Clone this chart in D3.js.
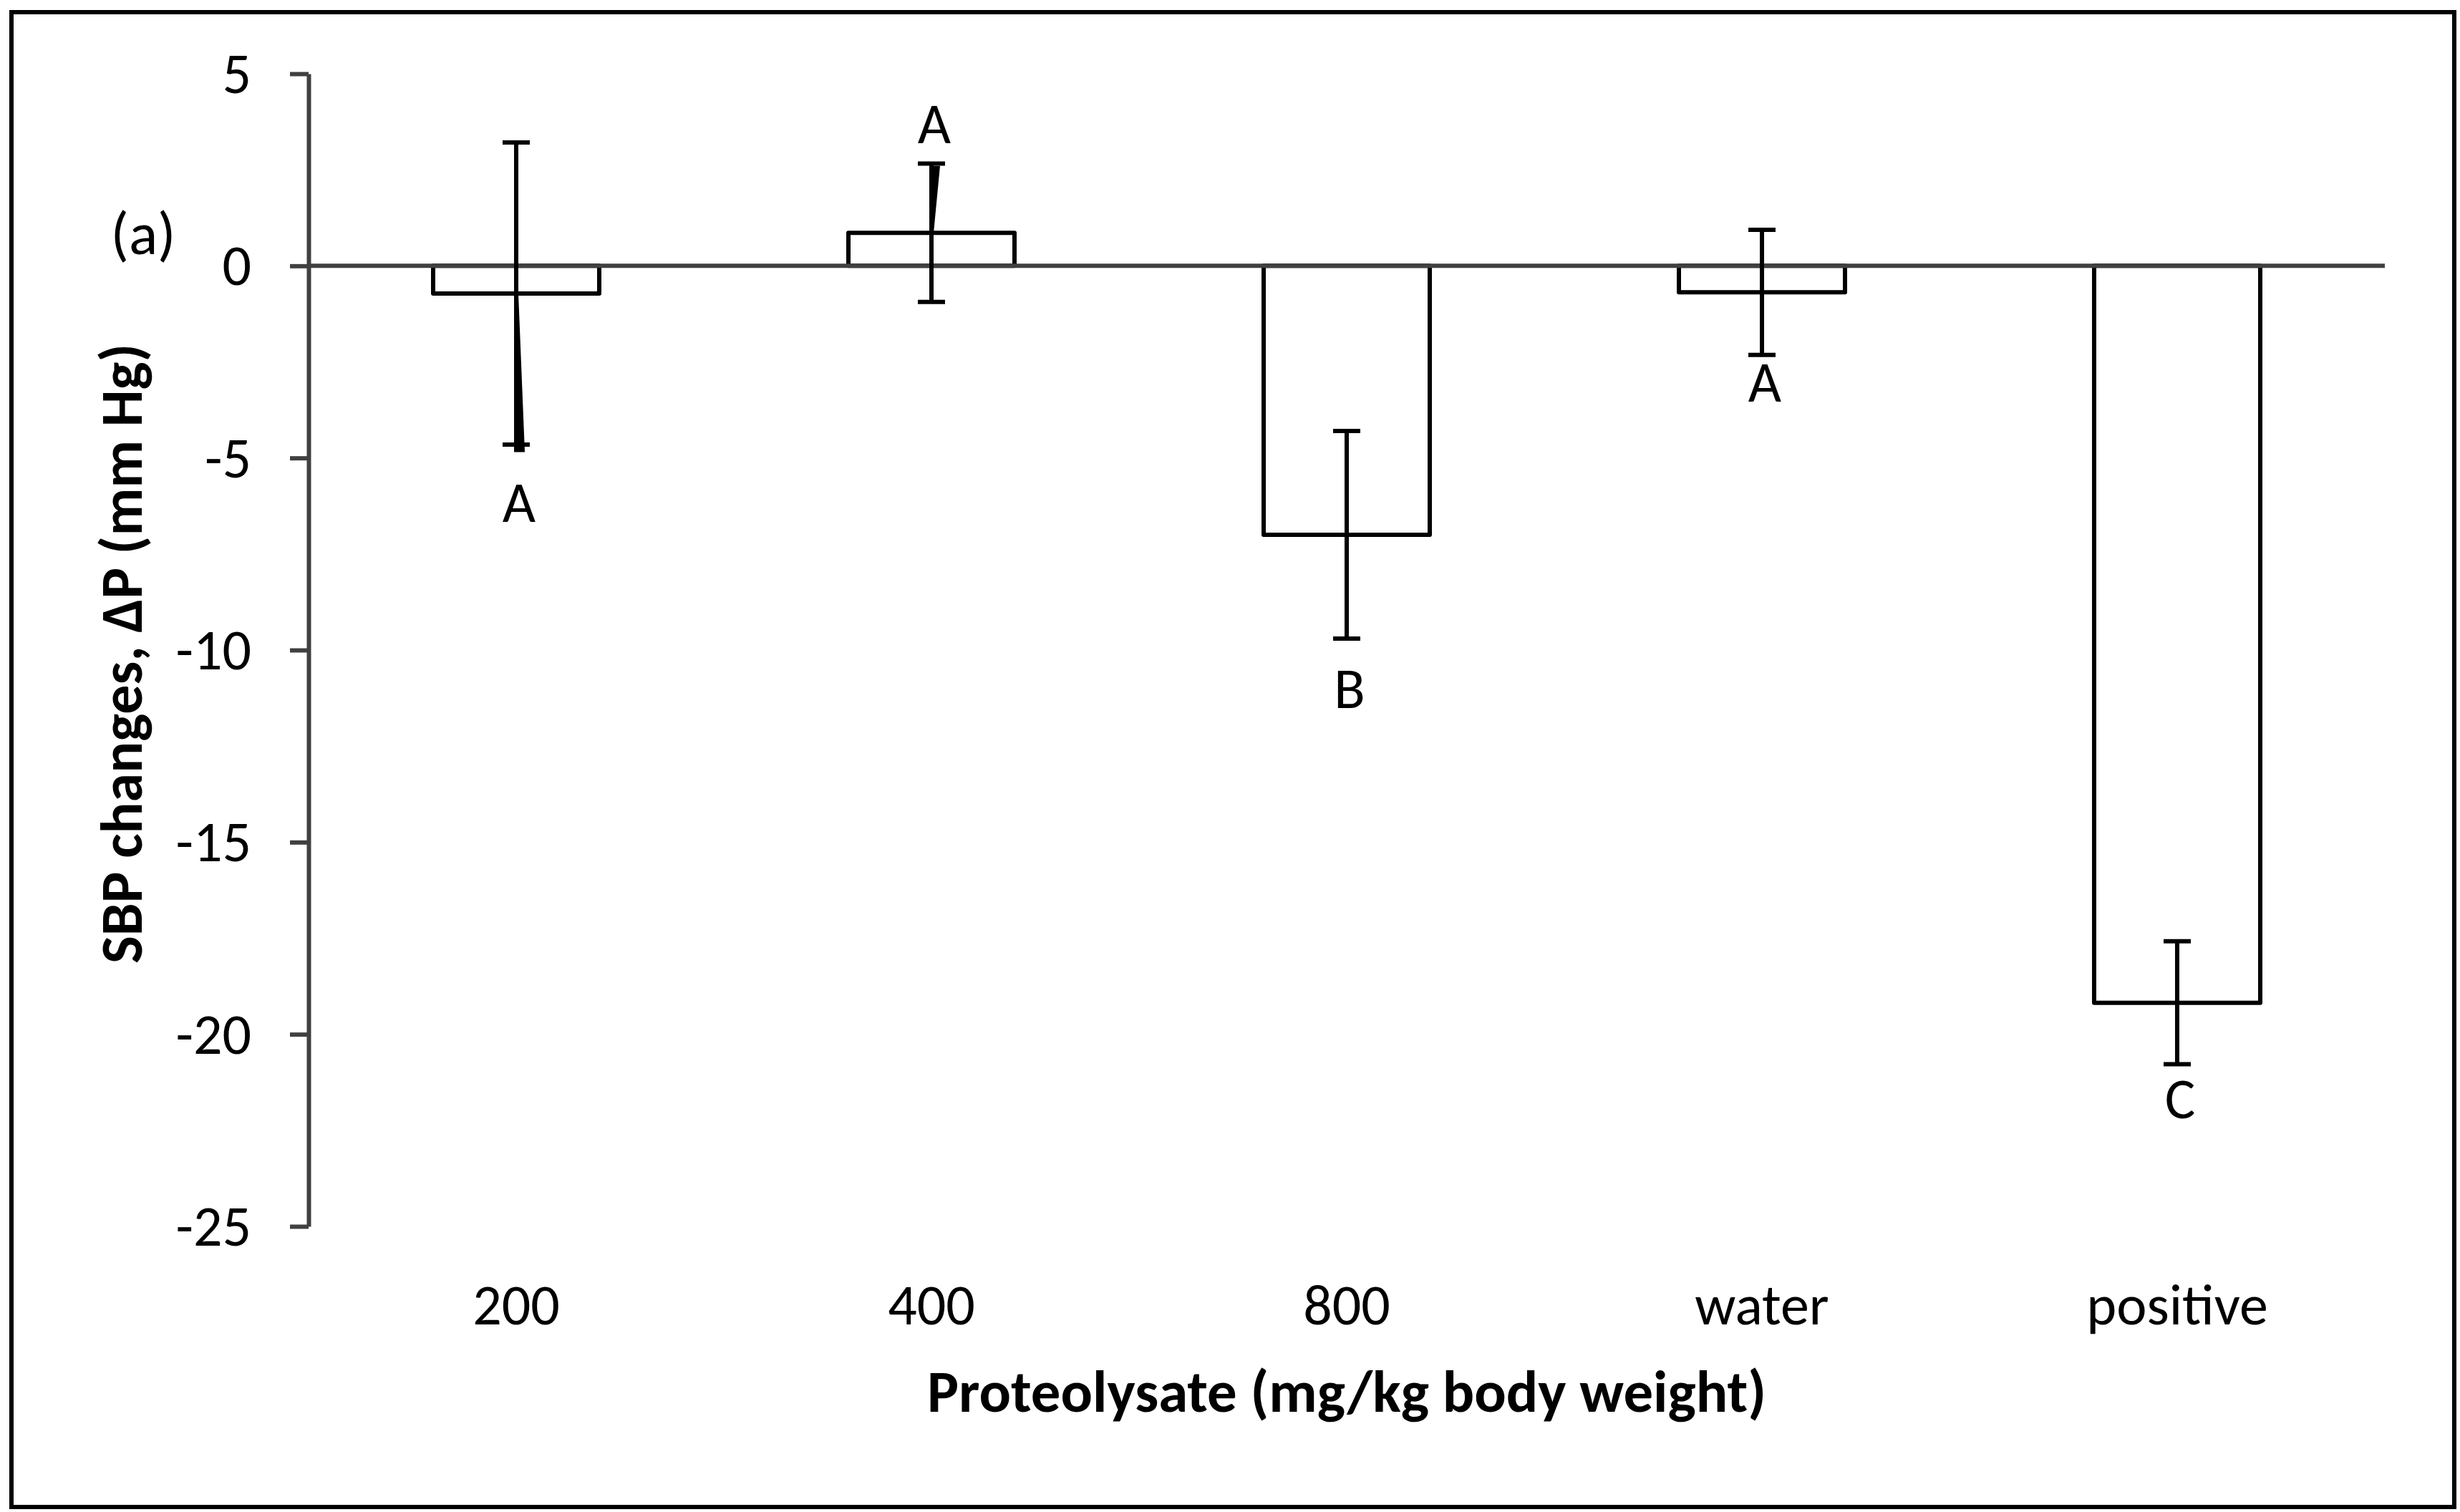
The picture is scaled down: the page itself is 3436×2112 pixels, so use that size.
<!DOCTYPE html>
<html>
<head>
<meta charset="utf-8">
<script src="https://cdn.jsdelivr.net/npm/d3@7"></script>
<style>
  html, body { margin: 0; padding: 0; background: #fff; }
  svg text { font-family: Carlito, Calibri, Lato, sans-serif; fill: #000; }
</style>
</head>
<body>
<svg id="chart" width="3436" height="2112"></svg>
<script>
// values
const categories = ["200", "400", "800", "water", "positive"];
const means = [-0.72, 0.86, -7.0, -0.69, -19.18];
const errors = [3.93, 1.8, 2.7, 1.63, 1.6];
const letters = ["A", "A", "B", "A", "C"];
const letterPos = [-6.66, 3.2, -11.5, -3.53, -22.18];
const yTicks = [5, 0, -5, -10, -15, -20, -25];

// stray hand-drawn strokes on two error bars
const wedgeCats = ["200", "400"];
const wedgeFrom = [-0.72, 0.86];
const wedgeTo = [-4.85, 2.6];

const svg = d3.select("#chart");
const W = 3436, H = 2112;
const plot = { left: 431, right: 3331, top: 103, bottom: 1713 };
const axisGrey = "#404040";

// outer frame
svg.append("rect")
  .attr("x", 16).attr("y", 17)
  .attr("width", W - 16 - 8).attr("height", H - 17 - 7)
  .attr("fill", "#fff")
  .attr("stroke", "#000")
  .attr("stroke-width", 6);

const x = d3.scaleBand()
  .domain(categories)
  .range([plot.left, plot.right])
  .padding(0);

const y = d3.scaleLinear()
  .domain([5, -25])
  .range([plot.top, plot.bottom]);

const barW = x.bandwidth() / 2.5;
const cx = c => x(c) + x.bandwidth() / 2;

// y axis
const yAxis = d3.axisLeft(y)
  .tickValues(yTicks)
  .tickSize(26)
  .tickSizeOuter(0)
  .tickPadding(54)
  .tickFormat(d3.format("d"));

const gy = svg.append("g")
  .attr("transform", `translate(${plot.left},0)`)
  .call(yAxis);
gy.select(".domain").attr("stroke", axisGrey).attr("stroke-width", 6);
gy.selectAll(".tick line").attr("stroke", axisGrey).attr("stroke-width", 6);
gy.selectAll(".tick text")
  .attr("font-size", 80)
  .attr("dy", "0.33em")
  .attr("fill", "#000")
  .style("font-family", "Carlito, Calibri, Lato, sans-serif")
  .text(d => d < 0 ? "-" + Math.abs(d) : d);

// bars
const data = categories.map((c, i) => ({ c, m: means[i], e: errors[i], l: letters[i], lp: letterPos[i] }));

svg.append("g").selectAll("rect")
  .data(data)
  .join("rect")
  .attr("x", d => cx(d.c) - barW / 2)
  .attr("y", d => Math.min(y(d.m), y(0)))
  .attr("width", barW)
  .attr("height", d => Math.abs(y(d.m) - y(0)))
  .attr("fill", "#fff")
  .attr("stroke", "#000")
  .attr("stroke-width", 6)
  .attr("stroke-linejoin", "round");

// horizontal axis at zero
svg.append("line")
  .attr("x1", plot.left).attr("x2", plot.right)
  .attr("y1", y(0)).attr("y2", y(0))
  .attr("stroke", axisGrey)
  .attr("stroke-width", 6);

// error bars
const capW = 38;
const eb = svg.append("g").attr("stroke", "#000").attr("stroke-width", 6);
eb.selectAll(".stem")
  .data(data)
  .join("line")
  .attr("class", "stem")
  .attr("x1", d => cx(d.c)).attr("x2", d => cx(d.c))
  .attr("y1", d => y(d.m + d.e)).attr("y2", d => y(d.m - d.e));
eb.selectAll(".capTop")
  .data(data)
  .join("line")
  .attr("class", "capTop")
  .attr("x1", d => cx(d.c) - capW / 2).attr("x2", d => cx(d.c) + capW / 2)
  .attr("y1", d => y(d.m + d.e)).attr("y2", d => y(d.m + d.e));
eb.selectAll(".capBot")
  .data(data)
  .join("line")
  .attr("class", "capBot")
  .attr("x1", d => cx(d.c) - capW / 2).attr("x2", d => cx(d.c) + capW / 2)
  .attr("y1", d => y(d.m - d.e)).attr("y2", d => y(d.m - d.e));

// wedges
svg.append("g").selectAll("path")
  .data(wedgeCats.map((c, i) => ({ c, f: wedgeFrom[i], t: wedgeTo[i] })))
  .join("path")
  .attr("fill", "#000")
  .attr("d", d => {
    const xc = cx(d.c);
    return `M${xc - 3},${y(d.f)}L${xc + 3},${y(d.f)}L${xc + 12},${y(d.t)}L${xc - 3},${y(d.t)}Z`;
  });

// significance letters
svg.append("g").selectAll("text")
  .data(data)
  .join("text")
  .attr("x", d => cx(d.c) + 4)
  .attr("y", d => y(d.lp))
  .attr("text-anchor", "middle")
  .attr("font-size", 80)
  .text(d => d.l);

// category labels
svg.append("g").selectAll("text")
  .data(categories)
  .join("text")
  .attr("x", d => cx(d))
  .attr("y", 1850)
  .attr("text-anchor", "middle")
  .attr("font-size", 80)
  .text(d => d);

// axis titles
svg.append("text")
  .attr("x", (plot.left + plot.right) / 2)
  .attr("y", 1972)
  .attr("text-anchor", "middle")
  .attr("font-size", 82)
  .attr("font-weight", "bold")
  .attr("textLength", 1172)
  .attr("lengthAdjust", "spacingAndGlyphs")
  .text("Proteolysate (mg/kg body weight)");

svg.append("text")
  .attr("transform", `translate(198,913) rotate(-90)`)
  .attr("text-anchor", "middle")
  .attr("font-size", 82)
  .attr("font-weight", "bold")
  .attr("textLength", 866)
  .attr("lengthAdjust", "spacingAndGlyphs")
  .text("SBP changes, ΔP (mm Hg)");

svg.append("text")
  .attr("x", 200)
  .attr("y", 355)
  .attr("text-anchor", "middle")
  .attr("font-size", 84)
  .text("(a)");
</script>
</body>
</html>
